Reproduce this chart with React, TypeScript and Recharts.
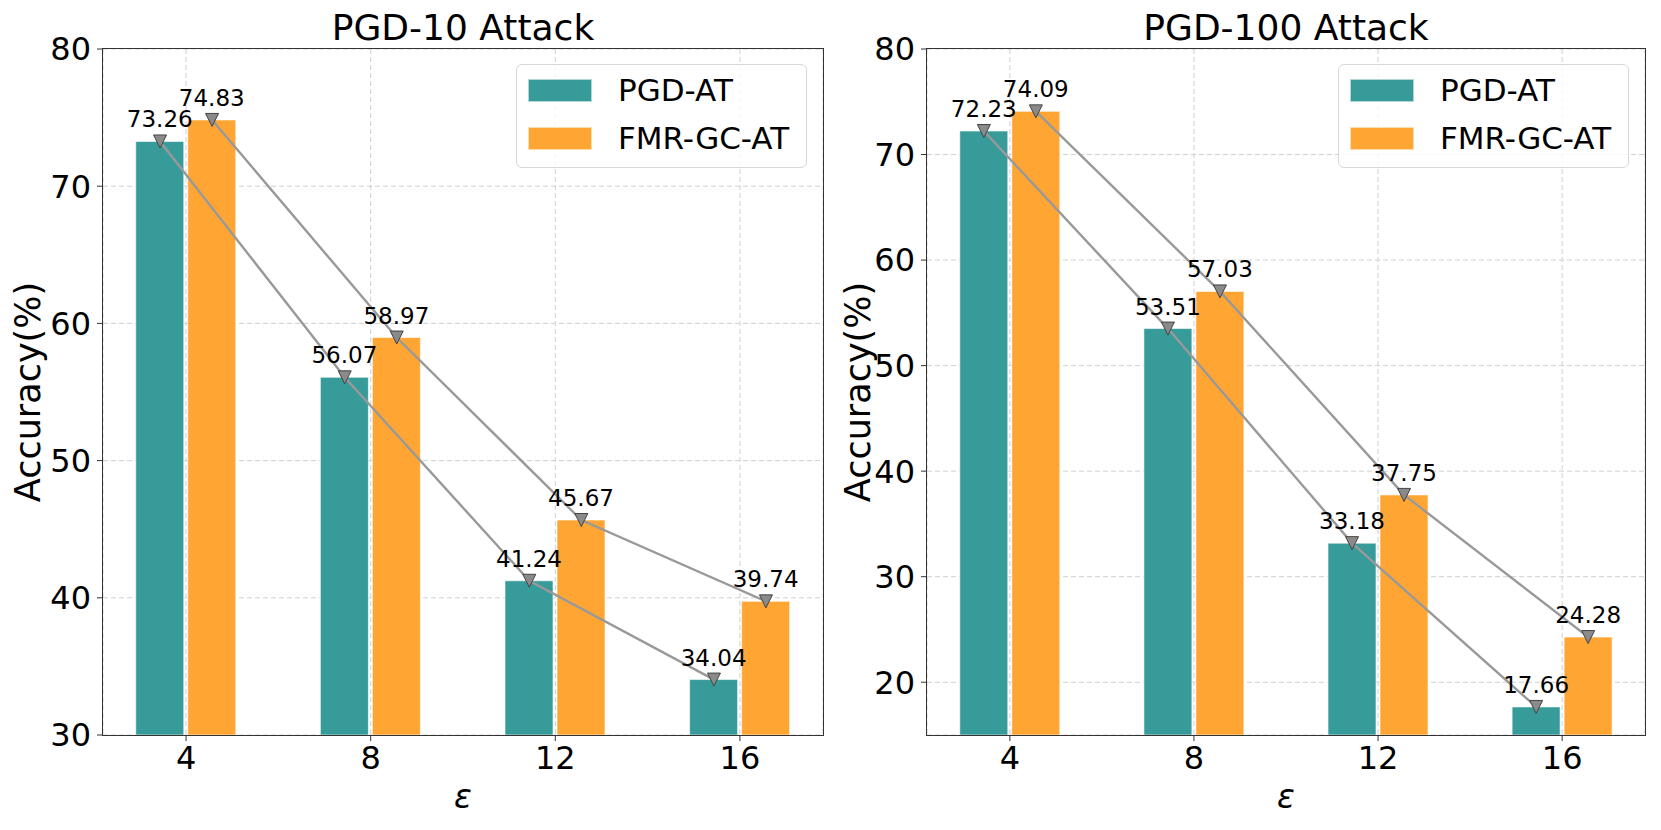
import React from 'react';
import { ComposedChart, Bar, Scatter, XAxis, YAxis, CartesianGrid, LabelList } from 'recharts';

const CATEGORIES = ['4', '8', '12', '16'];
const SERIES_NAMES = ['PGD-AT', 'FMR-GC-AT'];

const PGD10_PGDAT = [73.26, 56.07, 41.24, 34.04];
const PGD10_FMR = [74.83, 58.97, 45.67, 39.74];
const PGD100_PGDAT = [72.23, 53.51, 33.18, 17.66];
const PGD100_FMR = [74.09, 57.03, 37.75, 24.28];

const TICKS_PGD10 = [30, 40, 50, 60, 70, 80];
const TICKS_PGD100 = [20, 30, 40, 50, 60, 70, 80];

const TEAL = '#369b99';
const ORANGE = '#ffa534';
const COLORS = [TEAL, ORANGE];
const FONT = '"DejaVu Sans", Verdana, sans-serif';

const HEIGHT = 830;
const TOP = 49;
const X_AXIS_H = 95;
const BAR_SIZE = 48;
const BAR_GAP = 4;
const X_DOMAIN: [number, number] = [-0.45, 3.45];
const TICK_FONT = 32;

const DownTriangle = (props: any) => {
  const { cx, cy } = props;
  const r = 6.5;
  return (
    <path
      d={`M${cx - r},${cy - r} L${cx + r},${cy - r} L${cx},${cy + r} Z`}
      fill="#8a8a8a"
      stroke="#444"
      strokeWidth={1}
    />
  );
};

const ValueLabel = (props: any) => {
  const { x, y, width, value } = props;
  return (
    <text x={x + width / 2} y={y - 14} textAnchor="middle" fontSize={23} fontFamily={FONT} fill="#000">
      {Number(value).toFixed(2)}
    </text>
  );
};

type PanelProps = {
  title: string;
  left: number;
  width: number;
  yAxisWidth: number;
  marginRight: number;
  pgd: number[];
  fmr: number[];
  yDomain: [number, number];
  yTicks: number[];
};

const Panel = ({ title, left, width, yAxisWidth, marginRight, pgd, fmr, yDomain, yTicks }: PanelProps) => {
  const plotW = width - yAxisWidth - marginRight;
  const plotH = HEIGHT - TOP - X_AXIS_H;
  const unit = plotW / (X_DOMAIN[1] - X_DOMAIN[0]);
  const shift = (BAR_SIZE + BAR_GAP) / 2 / unit;

  const barData = CATEGORIES.map((c, i) => ({ x: i, eps: c, pgd: pgd[i], fmr: fmr[i] }));
  const pgdPoints = pgd.map((v, i) => ({ px: i - shift, y: v }));
  const fmrPoints = fmr.map((v, i) => ({ px: i + shift, y: v }));

  const legendLeft = yAxisWidth + plotW - 16 - 291;

  return (
    <div style={{ position: 'absolute', left, top: 0, width, height: HEIGHT, fontFamily: FONT }}>
      <ComposedChart
        width={width}
        height={HEIGHT}
        data={barData}
        margin={{ top: TOP, right: marginRight, bottom: 0, left: 0 }}
        barGap={BAR_GAP}
      >
        <CartesianGrid stroke="#d0d0d0" strokeDasharray="5 3" />
        <XAxis
          type="number"
          dataKey="x"
          domain={X_DOMAIN}
          ticks={[0, 1, 2, 3]}
          allowDataOverflow
          interval={0}
          tickFormatter={(v: number) => CATEGORIES[Math.round(v)]}
          height={X_AXIS_H}
          axisLine={false}
          tickSize={6}
          tickMargin={5}
          stroke="#333"
          fontSize={TICK_FONT}
          tick={{ fill: '#000', fontSize: TICK_FONT, fontFamily: FONT }}
          label={(p: any) => {
            const vb = p.viewBox || {};
            return (
              <text
                x={vb.x + vb.width / 2}
                y={vb.y + 73}
                textAnchor="middle"
                fontSize={33}
                fontStyle="italic"
                fontFamily={FONT}
                fill="#000"
              >
                ε
              </text>
            );
          }}
        />
        <XAxis xAxisId="pts" type="number" dataKey="px" domain={X_DOMAIN} allowDataOverflow hide />
        <YAxis
          type="number"
          domain={yDomain}
          ticks={yTicks}
          allowDataOverflow
          interval={0}
          width={yAxisWidth}
          axisLine={false}
          tickSize={6}
          tickMargin={6}
          stroke="#333"
          fontSize={TICK_FONT}
          tick={{ fill: '#000', fontSize: TICK_FONT, fontFamily: FONT }}
          label={(p: any) => {
            const vb = p.viewBox || {};
            const cy = vb.y + vb.height / 2;
            return (
              <text
                x={40}
                y={cy}
                transform={`rotate(-90, 40, ${cy})`}
                textAnchor="middle"
                fontSize={35}
                fontFamily={FONT}
                fill="#000"
              >
                Accuracy(%)
              </text>
            );
          }}
        />
        <Bar dataKey="pgd" name={SERIES_NAMES[0]} fill={TEAL} stroke="#ffffff" strokeOpacity={0.6} barSize={BAR_SIZE} isAnimationActive={false}>
          <LabelList dataKey="pgd" content={ValueLabel} />
        </Bar>
        <Bar dataKey="fmr" name={SERIES_NAMES[1]} fill={ORANGE} stroke="#ffffff" strokeOpacity={0.6} barSize={BAR_SIZE} isAnimationActive={false}>
          <LabelList dataKey="fmr" content={ValueLabel} />
        </Bar>
        <Scatter
          xAxisId="pts"
          data={pgdPoints}
          dataKey="y"
          line={{ stroke: '#999999', strokeWidth: 2.4 }}
          lineType="joint"
          shape={DownTriangle}
          legendType="none"
          isAnimationActive={false}
        />
        <Scatter
          xAxisId="pts"
          data={fmrPoints}
          dataKey="y"
          line={{ stroke: '#999999', strokeWidth: 2.4 }}
          lineType="joint"
          shape={DownTriangle}
          legendType="none"
          isAnimationActive={false}
        />
      </ComposedChart>

      {/* axes frame */}
      <div
        style={{
          position: 'absolute',
          left: yAxisWidth - 0.75,
          top: TOP - 0.75,
          width: plotW + 1.5,
          height: plotH + 1.5,
          border: '1.5px solid #333',
          boxSizing: 'border-box',
          pointerEvents: 'none',
        }}
      />

      <svg style={{ position: 'absolute', left: 0, top: 0 }} width={width} height={TOP}>
        <text x={yAxisWidth + plotW / 2} y={40} textAnchor="middle" fontSize={36} fontFamily={FONT} fill="#000">
          {title}
        </text>
      </svg>

      {/* legend */}
      <div
        style={{
          position: 'absolute',
          left: legendLeft,
          top: 64,
          width: 291,
          height: 104,
          boxSizing: 'border-box',
          border: '1.5px solid #d8d8d8',
          borderRadius: 6,
          background: 'rgba(255,255,255,0.8)',
        }}
      >
        {SERIES_NAMES.map((name, i) => (
          <div key={name} style={{ position: 'absolute', left: 11, top: 14 + i * 48, height: 23, display: 'flex', alignItems: 'center' }}>
            <div style={{ width: 64, height: 23, background: COLORS[i], boxSizing: 'border-box', border: '1px solid rgba(255,255,255,0.6)' }} />
            <span style={{ marginLeft: 26, fontSize: 31, lineHeight: '23px', color: '#000', whiteSpace: 'nowrap' }}>{name}</span>
          </div>
        ))}
      </div>
    </div>
  );
};

const App = () => {
  return (
    <div style={{ position: 'absolute', left: 0, top: 0, width: 1661, height: HEIGHT, background: '#fff', overflow: 'hidden' }}>
      <Panel
        title="PGD-10 Attack"
        left={0}
        width={830}
        yAxisWidth={103}
        marginRight={7}
        pgd={PGD10_PGDAT}
        fmr={PGD10_FMR}
        yDomain={[30, 80]}
        yTicks={TICKS_PGD10}
      />
      <Panel
        title="PGD-100 Attack"
        left={830}
        width={831}
        yAxisWidth={97}
        marginRight={16}
        pgd={PGD100_PGDAT}
        fmr={PGD100_FMR}
        yDomain={[15, 80]}
        yTicks={TICKS_PGD100}
      />
    </div>
  );
};

export default App;
